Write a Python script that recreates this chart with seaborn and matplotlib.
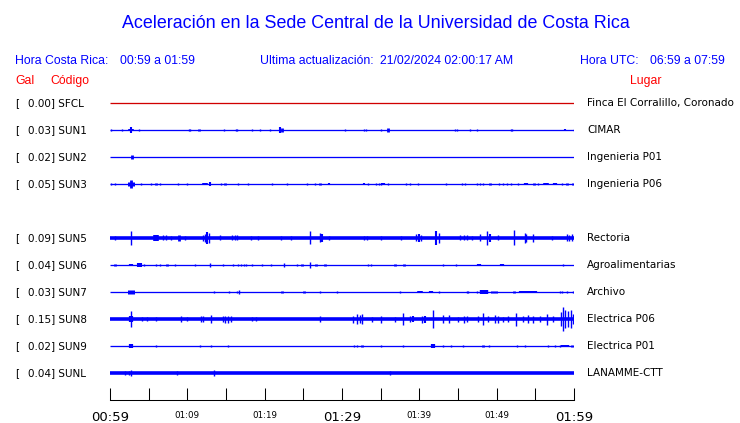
import matplotlib
matplotlib.use("Agg")
import matplotlib.pyplot as plt
import matplotlib.transforms as mtransforms
import numpy as np
import seaborn as sns

# Estaciones, aceleracion maxima (gal) y lugar
codigos = ["SFCL", "SUN1", "SUN2", "SUN3", "SUN5", "SUN6", "SUN7", "SUN8", "SUN9", "SUNL"]
gal = [0.00, 0.03, 0.02, 0.05, 0.09, 0.04, 0.03, 0.15, 0.02, 0.04]
lugares = ["Finca El Corralillo, Coronado", "CIMAR", "Ingenieria P01", "Ingenieria P06",
           "Rectoria", "Agroalimentarias", "Archivo", "Electrica P06", "Electrica P01",
           "LANAMME-CTT"]
# nivel de ruido de fondo (semi-amplitud en px)
ruido = [0.5, 0.5, 0.5, 0.5, 1.8, 0.5, 0.5, 1.8, 0.5, 1.8]

pulsos_sfcl = []
pulsos_sun1 = [(0.1, 1, 1), (1.6, 0.7, 1), (2.75, 1.3, 4), (2.75, 3.3, 1.5), (3.7, 1.3, 1),
               (10.2, 1.3, 1), (10.35, 1.3, 1), (11.5, 1.3, 2), (14.7, 0.7, 1), (16.25, 1.3, 1),
               (16.45, 1, 1), (18.3, 0.7, 1), (19.35, 1.3, 1), (20.7, 1.3, 1), (21.95, 3, 1.5),
               (22.25, 1.7, 2), (30.4, 0.7, 1), (32.9, 1.3, 1), (33.1, 1.3, 1), (35.0, 0.7, 1),
               (35.95, 1.7, 2), (44.6, 1.3, 1), (44.9, 1.3, 1), (46.5, 0.7, 1), (47.4, 1, 1),
               (51.8, 1.3, 1), (52.0, 1.3, 1), (58.8, 1.3, 1.5), (59.95, 1, 1)]
pulsos_sun2 = [(2.8, 1.7, 2)]
pulsos_sun3 = [(0.17, 0.8, 1), (0.6, 1, 1), (2.76, 1.7, 5), (2.76, 4, 2), (4.05, 0.8, 1),
               (5.35, 0.5, 1), (6.0, 1, 2), (6.5, 0.8, 1), (8.8, 0.5, 1), (10.0, 0.5, 1),
               (12.25, 1, 4), (12.9, 1.7, 1.5), (14.4, 0.5, 1), (14.9, 1, 2), (16.5, 0.5, 1),
               (17.9, 0.5, 1), (21.0, 0.5, 1), (22.9, 0.5, 1), (25.5, 0.5, 1), (26.55, 0.5, 1),
               (27.2, 1, 2), (28.3, 1, 1.5), (32.9, 1, 1.5), (33.4, 1, 1), (34.4, 0.8, 1),
               (34.75, 0.8, 1), (35.0, 1, 1), (35.35, 1, 3), (35.95, 0.5, 1), (38.3, 0.8, 1),
               (38.75, 0.5, 1), (39.8, 0.5, 1), (43.4, 0.5, 1), (45.5, 0.5, 1), (45.9, 0.5, 1),
               (47.4, 0.5, 1), (47.8, 0.8, 1), (48.2, 1, 1), (49.2, 1, 2), (50.25, 0.5, 1),
               (50.8, 0.5, 1), (51.4, 0.5, 1), (51.8, 1, 1), (52.7, 1, 1), (53.75, 1, 3),
               (54.8, 1, 2), (55.4, 0.5, 1), (56.4, 1, 4), (57.5, 1, 3), (58.4, 0.5, 1),
               (59.1, 1, 2), (59.9, 1, 2)]
pulsos_sun5 = [(0.7, 2.3, 1), (2.76, 7.3, 1), (6.0, 3.3, 4), (6.85, 2.5, 1), (7.3, 2.5, 1),
               (7.9, 2.3, 1), (8.9, 3, 2), (9.65, 2, 1), (12.05, 3, 1), (12.3, 4, 1),
               (12.6, 6, 1.5), (12.8, 5, 1), (14.25, 2.5, 1), (15.8, 2.5, 1), (16.1, 2.5, 1),
               (16.4, 2.5, 1), (18.2, 2, 1), (19.15, 2.3, 1), (22.15, 2, 1), (23.35, 2, 1),
               (25.9, 6.5, 1), (27.1, 4.5, 1), (27.4, 4, 1.5), (28.3, 2.3, 1), (32.9, 2.3, 1),
               (33.2, 2.3, 1), (35.0, 2, 1), (37.6, 2.3, 1), (39.6, 3.5, 1), (39.9, 4, 1.5),
               (40.25, 3, 1), (42.2, 7, 1.5), (42.5, 5, 1), (45.2, 2.5, 1), (45.8, 2.5, 1),
               (46.1, 2.5, 1), (46.8, 2, 1), (47.9, 3.5, 1), (48.8, 7, 1), (49.1, 4, 1.5),
               (50.2, 2.5, 1), (52.3, 7.5, 1), (53.6, 5, 1), (53.8, 4, 1), (54.7, 4, 1),
               (57.1, 2, 1), (59.1, 3.5, 1), (59.4, 3, 1), (59.7, 3.5, 1)]
pulsos_sun6 = [(0.7, 1.3, 2), (2.76, 1.3, 3), (3.6, 1.7, 1.5), (3.85, 1.7, 1.5), (4.05, 1.7, 1.5),
               (4.35, 0.8, 1), (5.9, 1, 1), (6.5, 1, 1), (7.4, 1.3, 2), (8.35, 0.7, 1),
               (11.0, 0.7, 1), (12.9, 2, 1), (14.65, 0.7, 1), (15.9, 1, 1), (16.5, 1, 1),
               (17.0, 1, 1), (17.3, 1, 1), (17.6, 1, 1), (18.4, 1, 1), (19.65, 1.3, 1),
               (20.85, 1, 1), (22.45, 2, 1), (24.2, 1, 1), (24.8, 1.3, 2), (25.8, 3, 1),
               (26.6, 1.3, 2), (27.8, 1.3, 2), (33.3, 1, 1), (33.8, 1, 1), (36.8, 1.3, 2),
               (38.0, 1.3, 2), (43.1, 1, 1), (44.8, 1, 1), (47.75, 1.3, 3), (50.7, 1.3, 3),
               (58.6, 1, 1)]
pulsos_sun7 = [(2.76, 1.7, 5), (13.4, 1, 1), (15.45, 0.7, 1), (16.4, 1, 1), (16.7, 2.3, 1),
               (22.3, 1.3, 2), (25.05, 1.3, 2), (27.2, 0.7, 1), (29.4, 1, 1), (37.45, 1, 1),
               (40.05, 1.3, 4), (41.45, 1.3, 3), (42.6, 1, 1), (46.1, 1, 1), (46.3, 0.7, 1),
               (47.5, 1, 1), (48.4, 1.7, 6), (49.65, 1.3, 5), (52.25, 1.3, 2), (54.1, 1.3, 13),
               (58.15, 0.7, 1), (58.45, 1, 1), (59.15, 1, 1), (59.9, 1.3, 1)]
pulsos_sun8 = [(2.76, 8.3, 1), (2.76, 3, 3), (4.2, 2.3, 1), (4.8, 2, 1), (5.9, 2.3, 1),
               (9.15, 2.7, 1), (10.0, 2, 1), (11.8, 3, 1), (12.0, 3, 1), (13.0, 4, 1),
               (14.6, 3, 1), (14.9, 3.5, 1), (15.25, 3.5, 1), (15.6, 3, 1), (18.4, 2, 1),
               (18.9, 2.3, 1), (27.2, 2.7, 1), (31.4, 3.5, 1), (32.0, 5, 1), (32.3, 4, 1),
               (32.6, 5, 1), (33.9, 2.5, 1), (35.1, 3.5, 1), (36.8, 2.5, 1), (37.9, 6, 1),
               (38.75, 3, 1), (39.2, 3, 1.5), (40.3, 3.5, 1), (40.7, 3.5, 1.5), (41.8, 9, 1),
               (43.05, 4.5, 1), (43.9, 4.5, 1), (45.0, 2.5, 1), (45.8, 3.5, 1), (46.1, 3, 1),
               (47.6, 2.7, 1), (48.2, 6, 1), (48.9, 3, 1), (49.75, 4, 1), (50.2, 3.5, 1),
               (50.8, 2.5, 1), (51.5, 3, 1), (52.45, 6.5, 1), (53.4, 3, 1), (54.05, 4, 1),
               (54.7, 3.5, 1), (55.55, 3, 1), (56.55, 5.5, 1), (57.3, 3, 1), (58.3, 7, 1),
               (58.6, 12, 1), (58.9, 9, 1), (59.2, 8, 1), (59.55, 9, 1), (59.85, 5, 1)]
pulsos_sun9 = [(2.76, 1.7, 3), (5.9, 0.7, 1), (11.7, 1, 1), (13.0, 0.7, 1), (15.2, 0.7, 1),
               (31.55, 1, 1), (31.9, 1, 1), (32.6, 0.7, 2), (35.0, 0.7, 1), (37.9, 1, 1),
               (41.8, 1.7, 3), (43.0, 0.7, 1), (44.15, 1, 1), (45.7, 0.7, 1), (48.25, 1.3, 2),
               (48.95, 0.7, 1), (52.6, 1.3, 1), (53.7, 0.7, 1), (56.6, 1, 1), (57.5, 0.7, 1),
               (58.25, 1, 1), (58.8, 1.3, 6), (59.8, 1.3, 2)]
pulsos_sunl = [(2.0, 2.3, 1), (2.5, 2.3, 1), (2.76, 3.3, 1), (8.6, 2.2, 1), (13.5, 3.3, 1),
               (36.2, 2.3, 1)]
pulsos = [pulsos_sfcl, pulsos_sun1, pulsos_sun2, pulsos_sun3, pulsos_sun5, pulsos_sun6,
          pulsos_sun7, pulsos_sun8, pulsos_sun9, pulsos_sunl]

etiquetas_x = ["00:59", "", "01:09", "", "01:19", "", "01:29", "", "01:39", "", "01:49", "", "01:59"]

AZUL = "#0000ff"
ROJO = "#ff0000"
PX_FILA = 1 / 27    # filas por pixel
PT = 0.72           # puntos por pixel

sns.set_theme(style="white")
plt.rcParams["font.family"] = ["DejaVu Sans"]

fig = plt.figure(figsize=(7.4, 4.23), dpi=100)
ax = fig.add_axes([110 / 740, 23 / 423, 464 / 740, 310.5 / 423])
ax.set_xlim(0, 60)
ax.set_ylim(11, -0.5)

filas = [i if i < 4 else i + 1 for i in range(len(codigos))]
trans = mtransforms.blended_transform_factory(fig.transFigure, ax.transData)

for fila, cod, g, lugar, r, p in zip(filas, codigos, gal, lugares, ruido, pulsos):
    color = "#d00000" if cod == "SFCL" else AZUL
    ax.hlines(fila, 0, 60, color=color, lw=max(2 * r, 1.3) * PT, capstyle="butt")
    if p:
        t = np.array([q[0] for q in p])
        a = np.array([max(q[1], 1.0) for q in p]) * PX_FILA
        w = np.array([max(q[2] * 1.4, 1.3) for q in p]) * PT
        ax.vlines(t, fila - a, fila + a, color=color, linewidths=w, capstyle="butt")
    ax.text(15 / 740, fila, "[", transform=trans, va="center", ha="left", fontsize=7.5, color="black")
    ax.text(28 / 740, fila, f"{g:.2f}] {cod}", transform=trans, va="center", ha="left",
            fontsize=7.5, color="black")
    ax.text(587 / 740, fila, lugar, transform=trans, va="center", ha="left", fontsize=7.5, color="black")

# eje de tiempo
ax.set_yticks([])
ax.set_xticks(np.arange(0, 61, 5))
ax.set_xticklabels(etiquetas_x)
for lbl, txt in zip(ax.get_xticklabels(), etiquetas_x):
    lbl.set_fontsize(9.5 if txt in ("00:59", "01:29", "01:59") else 6.3)
ax.tick_params(axis="x", bottom=True, direction="in", length=8.6, width=0.75,
               color="black", pad=8, labelcolor="black")
for s in ["top", "left", "right"]:
    ax.spines[s].set_visible(False)
ax.spines["bottom"].set_color("black")
ax.spines["bottom"].set_linewidth(0.75)
ax.set_facecolor("white")

# encabezados
H = 423
fl = ["Liberation Sans", "DejaVu Sans"]
fig.text(375.5 / 740, 1 - 23 / H, "Aceleración en la Sede Central de la Universidad de Costa Rica",
         ha="center", va="center", fontsize=12.9, color=AZUL, family=fl)
for x, txt in [(15, "Hora Costa Rica:"), (120, "00:59 a 01:59"),
               (260, "Ultima actualización:"), (380, "21/02/2024 02:00:17 AM"),
               (580, "Hora UTC:"), (650, "06:59 a 07:59")]:
    fig.text(x / 740, 1 - 61 / H, txt, ha="left", va="center", fontsize=8.8, color=AZUL, family=fl)
for x, txt in [(15, "Gal"), (50, "Código"), (630, "Lugar")]:
    fig.text(x / 740, 1 - 81 / H, txt, ha="left", va="center", fontsize=8.8, color=ROJO, family=fl)

fig.savefig("out.png", dpi=100, facecolor="white")
